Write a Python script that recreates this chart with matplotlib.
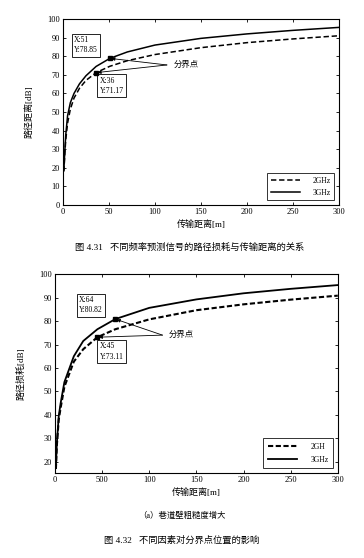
import matplotlib
matplotlib.use("Agg")
import matplotlib.pyplot as plt

plt.rcParams['font.family'] = ['Liberation Serif', 'Noto Sans CJK SC']
plt.rcParams['axes.unicode_minus'] = False

# ---- data ----
# Fig 4.31
x_top = [1, 2, 3, 5, 8, 12, 18, 25, 36, 51, 70, 100, 150, 200, 250, 300]
loss_3g_top = [19, 29, 37.5, 48, 55, 60, 65.2, 69.5, 74.5, 78.85, 82.3, 86.0, 89.6, 92.0, 93.9, 95.5]
loss_2g_top = [18, 27.5, 35, 44, 51.5, 57.5, 62.8, 67, 71.17, 74.6, 77.6, 80.9, 84.6, 87.3, 89.3, 91.0]
bp_3g_top = (51, 78.85)
bp_2g_top = (36, 71.17)

# Fig 4.32 (a)
x_bot = [1, 2, 4, 6, 10, 20, 30, 45, 64, 100, 150, 200, 250, 300]
loss_3g_bot = [18, 28, 39.5, 45, 54, 65, 71.5, 76.5, 80.82, 85.6, 89.2, 91.8, 93.7, 95.3]
loss_2g_bot = [17, 27, 38, 43, 52, 62.7, 68, 73.11, 76.5, 80.7, 84.6, 87.1, 89.1, 90.8]
bp_3g_bot = (64, 80.82)
bp_2g_bot = (45, 73.11)

xticks_bot = [0, 50, 100, 150, 200, 250, 300]
xticklabels_bot = ['0', '500', '100', '150', '200', '250', '300']

fig = plt.figure(figsize=(3.64, 5.58), dpi=100)

def style_axes(ax):
    ax.tick_params(direction='in', top=True, right=True, labelsize=6, length=2.5, width=0.6, pad=2)
    for s in ax.spines.values():
        s.set_linewidth(0.8)

def add_breakpoints(ax, bp_a, bp_b, box_a, box_b, txt_pos, arr_start):
    for bp in (bp_a, bp_b):
        ax.plot(bp[0], bp[1], marker='s', color='black', markersize=3.5, zorder=5)
    ax.text(box_a[0], box_a[1], 'X:%g\nY:%.2f' % bp_a, fontsize=5.5, va='center', ha='left',
            linespacing=1.4, bbox=dict(boxstyle='square,pad=0.3', fc='white', ec='black', lw=0.6))
    ax.text(box_b[0], box_b[1], 'X:%g\nY:%.2f' % bp_b, fontsize=5.5, va='center', ha='left',
            linespacing=1.4, bbox=dict(boxstyle='square,pad=0.3', fc='white', ec='black', lw=0.6))
    ax.text(txt_pos[0], txt_pos[1], '分界点', fontsize=6, va='center', ha='left')
    for bp in (bp_a, bp_b):
        ax.annotate('', xy=bp, xytext=arr_start,
                    arrowprops=dict(arrowstyle='-|>', color='black', lw=0.6,
                                    mutation_scale=5, shrinkA=0, shrinkB=1))

# top chart
ax1 = fig.add_axes([0.173, 0.6326, 0.758, 0.3333])
ax1.plot(x_top, loss_2g_top, color='black', lw=1.1, ls=(0, (3.5, 1.8)), label='2GHz')
ax1.plot(x_top, loss_3g_top, color='black', lw=1.1, label='3GHz')
ax1.set_xlim(0, 300)
ax1.set_ylim(0, 100)
ax1.set_xticks([0, 50, 100, 150, 200, 250, 300])
ax1.set_yticks(range(0, 101, 10))
style_axes(ax1)
ax1.set_xlabel('传输距离[m]', fontsize=6.5, labelpad=3)
ax1.set_ylabel('路径距离[dB]', fontsize=6.5, labelpad=10)
add_breakpoints(ax1, bp_3g_top, bp_2g_top, (12, 86), (40, 64), (120, 75.3), (113, 75.3))
leg1 = ax1.legend(loc='lower right', fontsize=5.5, fancybox=False, edgecolor='black',
                  handlelength=3.8, handletextpad=1.6, borderpad=0.5, labelspacing=0.5,
                  borderaxespad=0.6)
leg1.get_frame().set_linewidth(0.7)

# bottom chart
ax2 = fig.add_axes([0.151, 0.1523, 0.777, 0.3566])
ax2.plot(x_bot, loss_2g_bot, color='black', lw=1.5, ls=(0, (2.5, 1.2)), label='2GH')
ax2.plot(x_bot, loss_3g_bot, color='black', lw=1.3, label='3GHz')
ax2.set_xlim(0, 300)
ax2.set_ylim(15.3, 100)
ax2.set_xticks(xticks_bot)
ax2.set_xticklabels(xticklabels_bot)
ax2.set_yticks(range(20, 101, 10))
style_axes(ax2)
ax2.set_xlabel('传输距离[m]', fontsize=6.5, labelpad=3)
ax2.set_ylabel('路径损耗[dB]', fontsize=6.5, labelpad=10)
add_breakpoints(ax2, bp_3g_bot, bp_2g_bot, (25.5, 86.8), (47.5, 67), (121, 74), (114, 74))
leg2 = ax2.legend(loc='lower right', fontsize=5.5, fancybox=False, edgecolor='black',
                  handlelength=3.8, handletextpad=1.8, borderpad=0.6, labelspacing=0.7,
                  borderaxespad=0.6)
leg2.get_frame().set_linewidth(0.7)

# captions
fig.text(0.52, 1 - 247 / 558, '图 4.31   不同频率预测信号的路径损耗与传输距离的关系',
         ha='center', va='center', fontsize=6.7)
fig.text(0.5, 1 - 516 / 558, '（a）巷道壁粗糙度增大', ha='center', va='center', fontsize=6)
fig.text(0.5, 1 - 540 / 558, '图 4.32   不同因素对分界点位置的影响',
         ha='center', va='center', fontsize=6.7)

fig.savefig('out.png', dpi=100)
